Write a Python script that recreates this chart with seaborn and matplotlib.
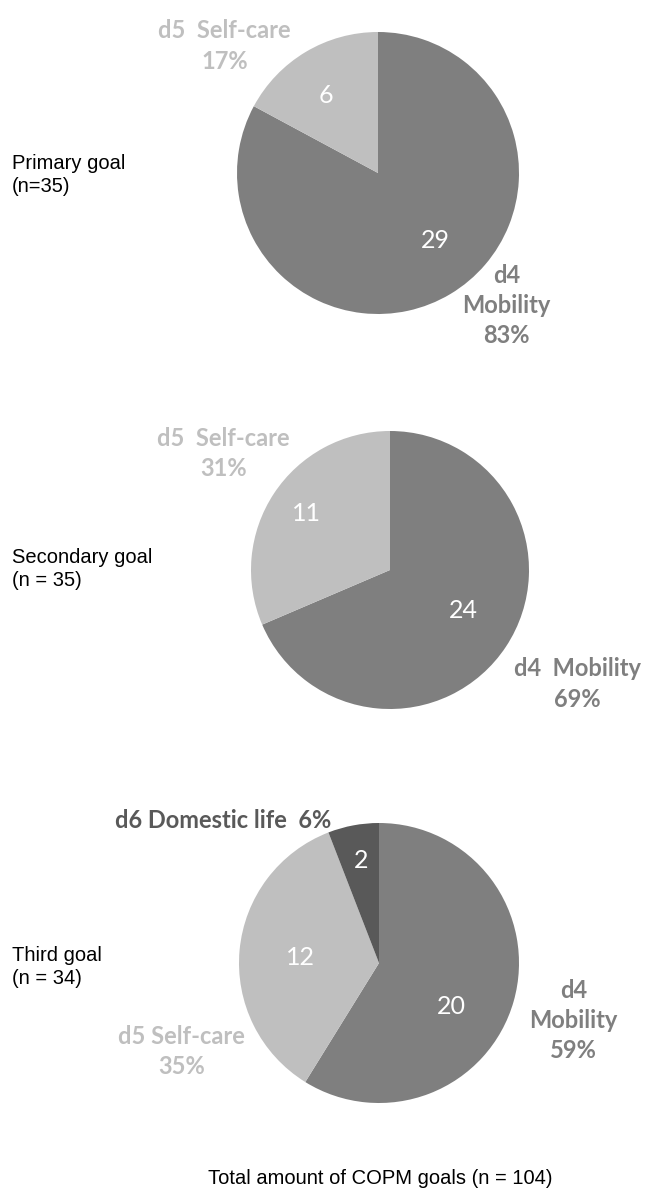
#
## copm_goal_pies.py
#
#  Three pies of COPM goals per ICF chapter (primary, secondary, third goal).
#

import matplotlib
matplotlib.use("Agg")
import matplotlib.pyplot as plt
import seaborn as sns

sns.set_style("white")

# --- data -------------------------------------------------------------
goal_titles = ["Primary goal\n(n=35)", "Secondary goal\n(n = 35)", "Third goal\n(n = 34)"]

primary_labels = ["d4 Mobility", "d5 Self-care"]
primary_counts = [29, 6]

secondary_labels = ["d4 Mobility", "d5 Self-care"]
secondary_counts = [24, 11]

third_labels = ["d4 Mobility", "d5 Self-care", "d6 Domestic life"]
third_counts = [20, 12, 2]

footer = "Total amount of COPM goals (n = 104)"

slice_colors = {"d4 Mobility": "#7f7f7f", "d5 Self-care": "#bfbfbf", "d6 Domestic life": "#595959"}

# --- layout (pixels of the 648 x 1194 canvas) --------------------------
W, H = 648, 1194
pie_geom = [(378, 173, 141), (390, 570, 139), (379, 963, 140)]
title_y = [175, 569, 967]

# number positions inside the slices, in pie units
number_pos = [
    [(0.41, -0.48), (-0.37, 0.55)],
    [(0.53, -0.29), (-0.60, 0.41)],
    [(0.52, -0.31), (-0.56, 0.04), (-0.13, 0.73)],
]
# outer category label templates and positions, in pie units
outer_fmt = [
    ["d4\nMobility\n{p}%", "d5  Self-care\n{p}%"],
    ["d4  Mobility\n{p}%", "d5  Self-care\n{p}%"],
    ["d4\nMobility\n{p}%", "d5 Self-care\n{p}%", "d6 Domestic life  {p}%"],
]
outer_pos = [
    [(0.91, -0.94), (-1.09, 0.90)],
    [(1.35, -0.82), (-1.20, 0.84)],
    [(1.39, -0.41), (-1.41, -0.63), (-1.11, 1.02)],
]

label_font = ["Lato", "DejaVu Sans"]
side_font = ["Liberation Sans", "DejaVu Sans"]

fig = plt.figure(figsize=(W / 100, H / 100), dpi=100)

datasets = [
    (primary_labels, primary_counts),
    (secondary_labels, secondary_counts),
    (third_labels, third_counts),
]

for i, (labels, counts) in enumerate(datasets):
    cx, cy, r = pie_geom[i]
    ax = fig.add_axes([(cx - r) / W, 1 - (cy + r) / H, 2 * r / W, 2 * r / H])
    total = sum(counts)
    wedges, _, autotexts = ax.pie(
        counts,
        colors=[slice_colors[l] for l in labels],
        startangle=90,
        counterclock=False,
        autopct=lambda p, t=total: f"{round(p * t / 100)}",
        pctdistance=0.6,
        wedgeprops=dict(linewidth=0),
        textprops=dict(color="white", fontsize=18, family=label_font),
    )
    for txt, pos in zip(autotexts, number_pos[i]):
        txt.set_position(pos)
        txt.set_ha("center")
        txt.set_va("center")
    ax.set_xlim(-1, 1)
    ax.set_ylim(-1, 1)
    ax.set_aspect("equal")
    ax.axis("off")

    for lab, cnt, fmt, pos in zip(labels, counts, outer_fmt[i], outer_pos[i]):
        pct = round(cnt / total * 100)
        ax.text(pos[0], pos[1], fmt.format(p=pct), ha="center", va="center",
                color=slice_colors[lab], fontsize=17, fontweight="bold",
                family=label_font, linespacing=1.38)

    fig.text(12 / W, 1 - title_y[i] / H, goal_titles[i], ha="left", va="center",
             fontsize=14.5, family=side_font, color="black", linespacing=1.25)

fig.text(380 / W, 1 - 1178 / H, footer, ha="center", va="center",
         fontsize=14.5, family=side_font, color="black")

plt.savefig("out.png", dpi=100)
plt.close()
